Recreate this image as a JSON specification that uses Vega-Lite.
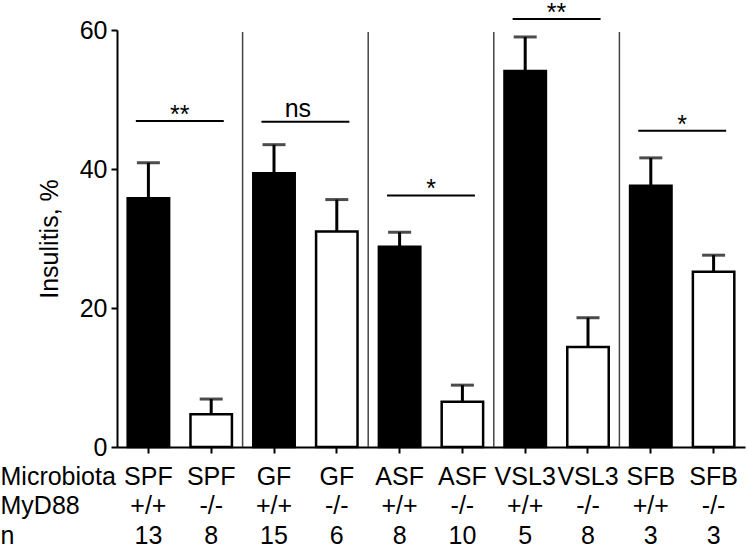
{
  "$schema": "https://vega.github.io/schema/vega-lite/v6.json",
  "width": 628,
  "height": 417,
  "autosize": "none",
  "padding": {"left": 117, "top": 30, "right": 2, "bottom": 100},
  "background": "white",
  "config": {
    "view": {"stroke": null},
    "font": "Liberation Sans",
    "axis": {
      "domainColor": "black", "domainWidth": 2,
      "tickColor": "black", "tickWidth": 2, "tickSize": 6,
      "labelColor": "black", "labelFontSize": 25, "labelFont": "Liberation Sans",
      "titleColor": "black", "titleFontSize": 25, "titleFontWeight": "normal", "titleFont": "Liberation Sans",
      "grid": false
    }
  },
  "datasets": {
    "bars": [
      {"group": "SPF|+/+|13", "microbiota": "SPF", "myd88": "+/+", "n": 13, "insulitis": 35.8, "upper": 40.9},
      {"group": "SPF|-/-|8", "microbiota": "SPF", "myd88": "-/-", "n": 8, "insulitis": 4.7, "upper": 6.9},
      {"group": "GF|+/+|15", "microbiota": "GF", "myd88": "+/+", "n": 15, "insulitis": 39.4, "upper": 43.5},
      {"group": "GF|-/-|6", "microbiota": "GF", "myd88": "-/-", "n": 6, "insulitis": 31.0, "upper": 35.6},
      {"group": "ASF|+/+|8", "microbiota": "ASF", "myd88": "+/+", "n": 8, "insulitis": 28.8, "upper": 30.9},
      {"group": "ASF|-/-|10", "microbiota": "ASF", "myd88": "-/-", "n": 10, "insulitis": 6.5, "upper": 8.9},
      {"group": "VSL3|+/+|5", "microbiota": "VSL3", "myd88": "+/+", "n": 5, "insulitis": 54.1, "upper": 59.0},
      {"group": "VSL3|-/-|8", "microbiota": "VSL3", "myd88": "-/-", "n": 8, "insulitis": 14.4, "upper": 18.6},
      {"group": "SFB|+/+|3", "microbiota": "SFB", "myd88": "+/+", "n": 3, "insulitis": 37.6, "upper": 41.6},
      {"group": "SFB|-/-|3", "microbiota": "SFB", "myd88": "-/-", "n": 3, "insulitis": 25.2, "upper": 27.6}
    ],
    "sig": [
      {"from": "SPF|+/+|13", "to": "SPF|-/-|8", "y": 46.9, "label": "**"},
      {"from": "GF|+/+|15", "to": "GF|-/-|6", "y": 46.8, "label": "ns"},
      {"from": "ASF|+/+|8", "to": "ASF|-/-|10", "y": 36.2, "label": "*"},
      {"from": "VSL3|+/+|5", "to": "VSL3|-/-|8", "y": 61.6, "label": "**"},
      {"from": "SFB|+/+|3", "to": "SFB|-/-|3", "y": 45.5, "label": "*"}
    ],
    "sep": [
      {"boundary": "GF|+/+|15"},
      {"boundary": "ASF|+/+|8"},
      {"boundary": "VSL3|+/+|5"},
      {"boundary": "SFB|+/+|3"}
    ]
  },
  "layer": [
    {
      "data": {"name": "sep"},
      "mark": {"type": "rule", "color": "#444444", "strokeWidth": 1.5},
      "encoding": {
        "x": {"field": "boundary", "type": "nominal", "bandPosition": 0},
        "y": {"datum": 59.7, "type": "quantitative"},
        "y2": {"datum": 0}
      }
    },
    {
      "data": {"name": "bars"},
      "mark": {"type": "bar", "width": {"band": 0.66}, "stroke": "black", "strokeWidth": 2.5},
      "encoding": {
        "x": {
          "field": "group", "type": "nominal",
          "scale": {
            "domain": ["SPF|+/+|13", "SPF|-/-|8", "GF|+/+|15", "GF|-/-|6", "ASF|+/+|8", "ASF|-/-|10", "VSL3|+/+|5", "VSL3|-/-|8", "SFB|+/+|3", "SFB|-/-|3"],
            "paddingInner": 0, "paddingOuter": 0
          },
          "axis": {
            "labelExpr": "split(datum.value, '|')",
            "labelAngle": 0,
            "labelAlign": "center",
            "labelBaseline": "alphabetic",
            "labelLineHeight": 29.5,
            "labelPadding": 31,
            "labelOverlap": false,
            "labelFlush": false,
            "title": ["Microbiota", "MyD88", "n"],
            "titleX": -117,
            "titleY": 37,
            "titleAlign": "left",
            "titleAnchor": "start",
            "titleBaseline": "alphabetic",
            "titleLineHeight": 29.5
          }
        },
        "y": {
          "field": "insulitis", "type": "quantitative",
          "scale": {"domain": [0, 60], "nice": false},
          "axis": {
            "values": [0, 20, 40, 60],
            "labelPadding": 4,
            "title": "Insulitis, %",
            "titleX": -60,
            "titleBaseline": "alphabetic"
          }
        },
        "fill": {
          "field": "myd88", "type": "nominal",
          "scale": {"domain": ["+/+", "-/-"], "range": ["black", "white"]},
          "legend": null
        }
      }
    },
    {
      "data": {"name": "bars"},
      "mark": {"type": "rule", "color": "black", "strokeWidth": 3},
      "encoding": {
        "x": {"field": "group", "type": "nominal"},
        "y": {"field": "insulitis", "type": "quantitative"},
        "y2": {"field": "upper"}
      }
    },
    {
      "data": {"name": "bars"},
      "mark": {"type": "tick", "color": "black", "size": 23, "thickness": 3, "orient": "horizontal"},
      "encoding": {
        "x": {"field": "group", "type": "nominal"},
        "y": {"field": "upper", "type": "quantitative"}
      }
    },
    {
      "data": {"name": "sig"},
      "mark": {"type": "rule", "color": "black", "strokeWidth": 2},
      "encoding": {
        "x": {"field": "from", "type": "nominal", "bandPosition": 0.3},
        "x2": {"field": "to", "bandPosition": 0.7},
        "y": {"field": "y", "type": "quantitative"}
      }
    },
    {
      "data": {"name": "sig"},
      "transform": [{"filter": "datum.label != 'ns'"}],
      "mark": {"type": "text", "fontSize": 25, "color": "black", "baseline": "alphabetic", "dy": 2},
      "encoding": {
        "x": {"field": "from", "type": "nominal", "bandPosition": 1},
        "y": {"field": "y", "type": "quantitative"},
        "text": {"field": "label"}
      }
    },
    {
      "data": {"name": "sig"},
      "transform": [{"filter": "datum.label == 'ns'"}],
      "mark": {"type": "text", "fontSize": 25, "color": "black", "baseline": "alphabetic", "dy": -5},
      "encoding": {
        "x": {"field": "from", "type": "nominal", "bandPosition": 0.88},
        "y": {"field": "y", "type": "quantitative"},
        "text": {"field": "label"}
      }
    }
  ]
}
